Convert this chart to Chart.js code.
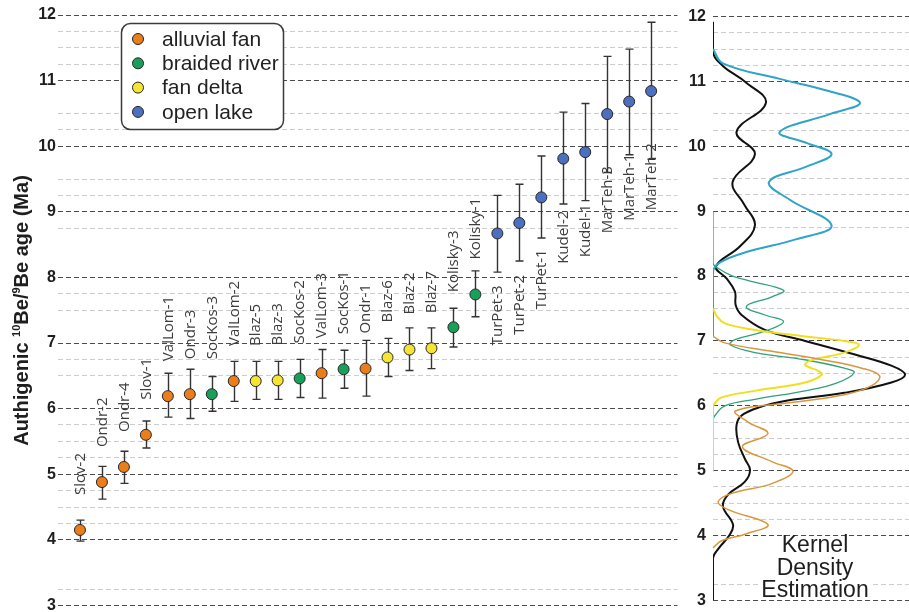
<!DOCTYPE html>
<html><head><meta charset="utf-8">
<script src="https://cdn.jsdelivr.net/npm/chart.js@4.4.1/dist/chart.umd.min.js"></script>
<style>
html,body{margin:0;padding:0;background:#fff;}
#wrap{position:relative;width:909px;height:612px;overflow:hidden;background:#fff;}
#c1{position:absolute;left:0;top:0;}
#c2{position:absolute;left:660px;top:0;}
</style></head><body>
<div id="wrap"><canvas id="c1" width="684" height="617"></canvas><canvas id="c2" width="249" height="617"></canvas></div>
<script>
// ---------------- DATA ----------------
const sampleNames = ['Slov-2','Ondr-2','Ondr-4','Slov-1','ValLom-1','Ondr-3','SocKos-3','ValLom-2','Blaz-5','Blaz-3',
  'SocKos-2','ValLom-3','SocKos-1','Ondr-1','Blaz-6','Blaz-2','Blaz-7','Kolisky-3','Kolisky-1','TurPet-3',
  'TurPet-2','TurPet-1','Kudel-2','Kudel-1','MarTeh-3','MarTeh-1','MarTeh-2'];
const ages     = [4.15,4.88,5.11,5.60,6.19,6.22,6.22,6.42,6.42,6.43,6.46,6.54,6.60,6.61,6.78,6.90,6.92,7.24,7.74,8.67,8.83,9.22,9.81,9.91,10.49,10.68,10.84];
const ageLow   = [3.98,4.62,4.86,5.40,5.87,5.85,5.96,6.11,6.14,6.14,6.17,6.16,6.31,6.19,6.49,6.58,6.61,6.94,7.40,8.08,8.25,8.60,9.12,9.17,9.60,9.87,9.80];
const ageHigh  = [4.30,5.12,5.35,5.81,6.54,6.60,6.49,6.72,6.72,6.72,6.75,6.90,6.89,7.04,7.07,7.23,7.23,7.53,8.10,9.25,9.42,9.85,10.52,10.65,11.37,11.48,11.89];
const environment = ['alluvial fan','alluvial fan','alluvial fan','alluvial fan','alluvial fan','alluvial fan','braided river','alluvial fan','fan delta','fan delta',
  'braided river','alluvial fan','braided river','alluvial fan','fan delta','fan delta','fan delta','braided river','braided river','open lake',
  'open lake','open lake','open lake','open lake','open lake','open lake','open lake'];
const environments = ['alluvial fan','braided river','fan delta','open lake'];
const yMin = 3, yMax = 12, yStep = 0.25;
const hiddenMinorTicks = [10.75,9.75,8.5,8.25,7.25,6.25,3.75,3.5];

// Kernel density estimation curves (relative density, age in Ma)
const kdeOpenLakeDensity = [0,5,34,58,75,60,34,48,60.5,48,28.6,39,60.5,42.7,17,3.6,0,0];
const kdeOpenLakeAge     = [11.5,11.28,11.04,10.86,10.67,10.5,10.22,10.05,9.88,9.69,9.45,9.18,8.78,8.57,8.37,8.21,8.06,7.07];
const kdeBraidedDensity  = [0,0,2.6,10,18,36,30,17,26.5,36,26.5,11.2,8.7,21.4,47,67,72,63,47,21.4,6,1,0];
const kdeBraidedAge      = [9.0,8.2,8.12,8.0,7.93,7.78,7.68,7.53,7.40,7.30,7.15,7.02,6.94,6.82,6.71,6.58,6.51,6.35,6.23,6.10,6.0,5.85,5.79];
const kdeFanDeltaDensity = [0,2,6,21.4,47,67,74.5,67,50,47,53.6,55.5,47,21.4,4.4,1,0,0];
const kdeFanDeltaAge     = [7.5,7.38,7.27,7.17,7.07,7.0,6.94,6.82,6.70,6.63,6.54,6.48,6.36,6.23,6.13,6.04,5.98,5.0];
const kdeAlluvialDensity = [0,6,30,55.5,76,85,81,67,40,11.5,17.9,28,15,30,40.8,30,9.5,2.6,7.7,28,16.3,4.4,0];
const kdeAlluvialAge     = [7.07,6.97,6.84,6.71,6.58,6.46,6.31,6.17,6.05,5.92,5.75,5.57,5.37,5.14,4.99,4.80,4.65,4.52,4.40,4.17,4.02,3.92,3.81];
const kdeAllDensity = [0,0,5,17,27,12,21.4,10,16,21.4,13.8,1.5,7,11.2,11.6,14.6,26.5,47,72.4,91,98,91,67,38,24,14.6,12,12.8,16.3,18.9,16.3,7.7,5.1,10.2,8.7,2.6,0,0];
const kdeAllAge     = [11.92,11.45,11.24,10.98,10.67,10.22,9.88,9.45,9.1,8.78,8.46,8.15,7.96,7.76,7.55,7.40,7.17,7.0,6.79,6.62,6.48,6.36,6.2,6.08,5.98,5.85,5.70,5.44,5.18,5.01,4.83,4.63,4.45,4.17,4.02,3.79,3.65,3.0];

// ---------------- STYLE ----------------
const markerColors = {'alluvial fan':'#ea7d1c','braided river':'#17a05a','fan delta':'#f6e433','open lake':'#4c6fc0'};
const FONT = "'Liberation Sans', Arial, sans-serif";

function gridColor(ctx){
  const v = ctx.tick.value;
  if (Math.abs(v - Math.round(v)) < 1e-6) return '#4a4a4a';
  if (hiddenMinorTicks.some(h => Math.abs(h - v) < 1e-6)) return 'rgba(0,0,0,0)';
  return '#cdcdcd';
}
function yScale(width, pad){
  return {
    type:'linear', min:yMin, max:yMax,
    afterFit(s){ s.width = width; },
    ticks:{ stepSize:yStep, autoSkip:false, padding:pad, color:'#1e1e1e',
      font:{family:FONT, size:16, weight:'bold'},
      callback:(v)=> Math.abs(v-Math.round(v))<1e-6 ? String(Math.round(v)) : '' },
    grid:{ color:gridColor, lineWidth:1, drawTicks:false },
    border:{ display:false, dash:[5,3] }
  };
}

// ---------------- LEFT CHART ----------------
const leftDatasets = environments.map(env => ({
  label: env,
  data: ages.map((a,i)=> environment[i]===env ? {x:i, y:a} : null).filter(p=>p),
  backgroundColor: markerColors[env],
  borderColor:'#262626', pointBorderWidth:1, pointRadius:5.5, pointHoverRadius:5.5
}));

const leftPlugin = {
  id:'leftDecor',
  beforeDatasetsDraw(chart){
    const {ctx, scales:{x,y}} = chart;
    ctx.save();
    ctx.strokeStyle='#333'; ctx.lineWidth=1.4;
    sampleNames.forEach((n,i)=>{
      const px = Math.round(x.getPixelForValue(i))+0.5;
      const yl = y.getPixelForValue(ageLow[i]), yh = y.getPixelForValue(ageHigh[i]);
      ctx.beginPath();
      ctx.moveTo(px,yl); ctx.lineTo(px,yh);
      ctx.moveTo(px-4,yl); ctx.lineTo(px+4,yl);
      ctx.moveTo(px-4,yh); ctx.lineTo(px+4,yh);
      ctx.stroke();
    });
    ctx.restore();
  },
  afterDatasetsDraw(chart){
    const {ctx, scales:{x,y}} = chart;
    // sample labels
    ctx.save();
    ctx.fillStyle='#3c3c3c';
    ctx.font = "15px 'Open Sans', sans-serif";
    ctx.textBaseline='middle';
    sampleNames.forEach((n,i)=>{
      const px = x.getPixelForValue(i);
      const py = y.getPixelForValue(ages[i]);
      const below = ages[i] > 8;
      ctx.save();
      ctx.translate(px+0.5, below ? py+52 : py-35);
      ctx.rotate(-Math.PI/2);
      ctx.textAlign = below ? 'right' : 'left';
      ctx.fillText(n,0,0);
      ctx.restore();
    });
    ctx.restore();

    // axis title with superscripts
    ctx.save();
    const parts = [['Authigenic ',false],['10',true],['Be/',false],['9',true],['Be age (Ma)',false]];
    const mainF = "bold 20px "+FONT, supF = "bold 11px "+FONT;
    let W = 0;
    parts.forEach(([t,s])=>{ ctx.font = s?supF:mainF; W += ctx.measureText(t).width; });
    ctx.translate(27.5, 310.5);
    ctx.rotate(-Math.PI/2);
    ctx.fillStyle='#1e1e1e'; ctx.textBaseline='alphabetic'; ctx.textAlign='left';
    let cx = -W/2;
    parts.forEach(([t,s])=>{
      ctx.font = s?supF:mainF;
      ctx.fillText(t, cx, s ? -8 : 0);
      cx += ctx.measureText(t).width;
    });
    ctx.restore();

    // legend
    ctx.save();
    const bx=121.5, by=23.5, bw=162, bh=106, r=9;
    ctx.beginPath();
    ctx.moveTo(bx+r,by); ctx.lineTo(bx+bw-r,by); ctx.arcTo(bx+bw,by,bx+bw,by+r,r);
    ctx.lineTo(bx+bw,by+bh-r); ctx.arcTo(bx+bw,by+bh,bx+bw-r,by+bh,r);
    ctx.lineTo(bx+r,by+bh); ctx.arcTo(bx,by+bh,bx,by+bh-r,r);
    ctx.lineTo(bx,by+r); ctx.arcTo(bx,by,bx+r,by,r); ctx.closePath();
    ctx.fillStyle='#fff'; ctx.fill();
    ctx.strokeStyle='#3a3a3a'; ctx.lineWidth=1.5; ctx.stroke();
    chart.data.datasets.forEach((ds,k)=>{
      const cy = 39 + k*24.3;
      ctx.beginPath(); ctx.arc(138, cy, 5.5, 0, Math.PI*2);
      ctx.fillStyle = ds.backgroundColor; ctx.fill();
      ctx.lineWidth=1; ctx.strokeStyle='#262626'; ctx.stroke();
      ctx.fillStyle='#222'; ctx.font = "21px "+FONT; ctx.textBaseline='middle'; ctx.textAlign='left';
      ctx.fillText(ds.label, 162, cy+1);
    });
    ctx.restore();
  }
};

new Chart(document.getElementById('c1'), {
  type:'scatter',
  data:{ datasets: leftDatasets },
  options:{
    responsive:false, animation:false, devicePixelRatio:1,
    layout:{ padding:{ top:15, bottom:0, left:0, right:3 } },
    plugins:{ legend:{display:false}, tooltip:{enabled:false} },
    scales:{
      x:{ type:'linear', min:-1, max:27.2, display:false },
      y: yScale(58, 2)
    }
  },
  plugins:[leftPlugin]
});

// ---------------- RIGHT CHART (KDE) ----------------
function curve(dens, age){ return dens.map((d,i)=>({x:d, y:age[i]})); }
const kdeSets = [
  {label:'alluvial fan', data:curve(kdeAlluvialDensity,kdeAlluvialAge), borderColor:'#d9963c', borderWidth:1.5},
  {label:'fan delta', data:curve(kdeFanDeltaDensity,kdeFanDeltaAge), borderColor:'#f1de1f', borderWidth:2},
  {label:'braided river', data:curve(kdeBraidedDensity,kdeBraidedAge), borderColor:'#2fa277', borderWidth:1.3},
  {label:'open lake', data:curve(kdeOpenLakeDensity,kdeOpenLakeAge), borderColor:'#2fa3c9', borderWidth:2},
  {label:'all samples', data:curve(kdeAllDensity,kdeAllAge), borderColor:'#111', borderWidth:2}
].map(d=>Object.assign(d,{showLine:true, pointRadius:0, tension:0.4, fill:false}));

const kdeTextPlugin = {
  id:'kdeText',
  afterDatasetsDraw(chart){
    const {ctx} = chart;
    ctx.save();
    ctx.font = "23px "+FONT; ctx.textAlign='center'; ctx.textBaseline='alphabetic';
    const cx = 155;
    [['Kernel',552],['Density',574.5],['Estimation',597]].forEach(([t,b])=>{
      const w = ctx.measureText(t).width;
      ctx.fillStyle='#fff'; ctx.fillRect(cx-w/2-2, b-15, w+4, 18);
    });
    ctx.fillStyle='#1e1e1e';
    [['Kernel',552],['Density',574.5],['Estimation',597]].forEach(([t,b])=> ctx.fillText(t,cx,b));
    ctx.restore();
  }
};

new Chart(document.getElementById('c2'), {
  type:'scatter',
  data:{ datasets: kdeSets },
  options:{
    responsive:false, animation:false, devicePixelRatio:1,
    layout:{ padding:{ top:15, bottom:0, left:0, right:0 } },
    plugins:{ legend:{display:false}, tooltip:{enabled:false} },
    scales:{
      x:{ type:'linear', min:0, max:100, display:false },
      y: yScale(53, 7)
    }
  },
  plugins:[kdeTextPlugin]
});
</script>
</body></html>
